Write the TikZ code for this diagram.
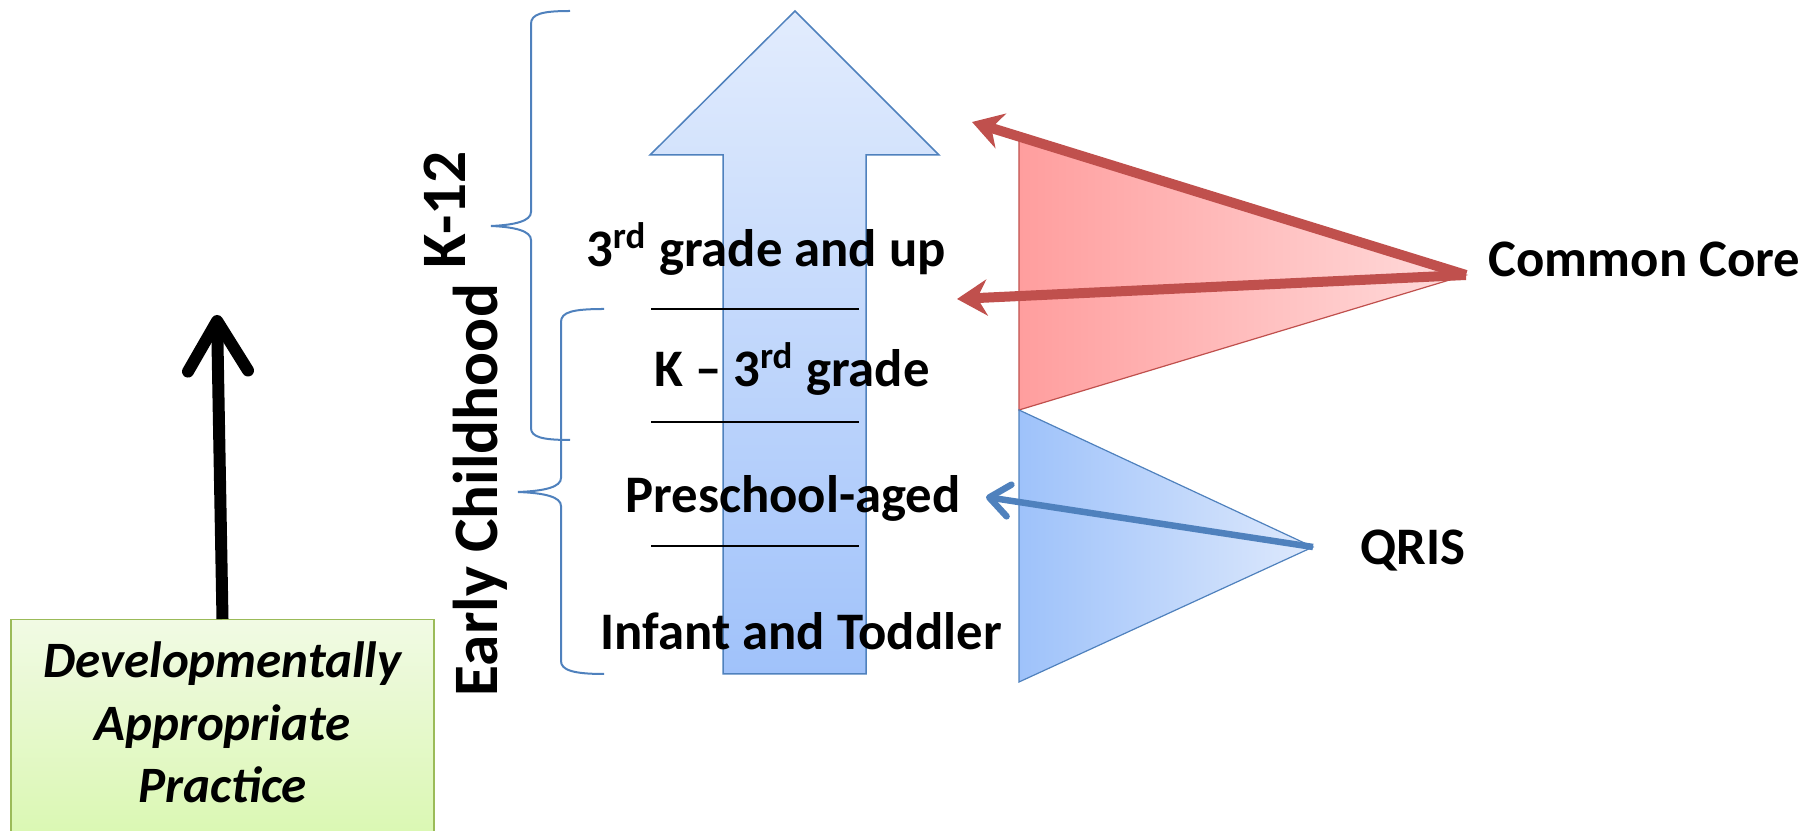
\documentclass[tikz,border=0pt]{standalone}
\usepackage{fontspec}
\setmainfont{Carlito}
\usetikzlibrary{arrows.meta}

\definecolor{pptblue}{RGB}{79,129,189}
\definecolor{pptred}{RGB}{192,80,77}
\definecolor{pptgreen}{RGB}{155,187,89}
\definecolor{arrowtop}{RGB}{226,236,253}
\definecolor{arrowbot}{RGB}{160,194,250}
\definecolor{redleft}{RGB}{255,158,158}
\definecolor{redright}{RGB}{255,220,220}
\definecolor{blueleft}{RGB}{158,194,250}
\definecolor{blueright}{RGB}{222,233,252}
\definecolor{greentop}{RGB}{241,250,228}
\definecolor{greenbot}{RGB}{212,247,165}

\tikzset{
  stage/.style={font=\fontsize{15}{18}\selectfont\bfseries, anchor=base, inner sep=0pt},
  side/.style={font=\fontsize{18}{21}\selectfont\bfseries, rotate=90, anchor=base west, inner sep=0pt},
  dapbox/.style={draw=pptgreen, line width=0.015cm, top color=greentop, bottom color=greenbot,
    align=center, font=\fontsize{14.5}{17.8}\selectfont\bfseries\itshape},
  coreline/.style={pptred, line width=0.1cm, -{Stealth[length=0.3cm,width=0.36cm]}},
  qrisline/.style={pptblue, line width=0.065cm, -{Straight Barb[length=0.2cm,width=0.32cm,round]}},
  bracket/.style={pptblue, line width=0.02cm},
  sepline/.style={black, line width=0.018cm},
}

\begin{document}
\begin{tikzpicture}[x=0.01cm, y=-0.01cm]
		%%%%% START %%%%%
		\useasboundingbox (0,0) rectangle (1820,831);
		\clip (0,0) rectangle (1820,831);
		
		% big arrow
		\draw[pptblue, line width=0.015cm, top color=arrowtop, bottom color=arrowbot]
			(795,11) -- (939,155) -- (866,155) -- (866,674) -- (723,674) -- (723,155) -- (650,155) -- cycle;
		
		\draw[sepline] (651,309) -- (859,309);
		\draw[sepline] (651,422) -- (859,422);
		\draw[sepline] (651,546) -- (859,546);
		
		% braces
		\draw[bracket] (570,11) .. controls (542,11) and (531,14) .. (531,24) -- (531,212)
			.. controls (531,221) and (515,225) .. (491,226) .. controls (515,227) and (531,231) .. (531,240)
			-- (531,428) .. controls (531,437) and (542,440) .. (570,440);
		\draw[bracket] (604,309) .. controls (573,309) and (561,312) .. (561,322) -- (561,478)
			.. controls (561,487) and (545,491) .. (518,492) .. controls (545,493) and (561,497) .. (561,506)
			-- (561,661) .. controls (561,670) and (573,674) .. (604,674);
		
		\node[side] (k12) at (465,269) {K-12};
		\node[side] (ec) at (497,697) {Early Childhood};
		
		\node[stage] (up) at (766,267) {3\textsuperscript{rd} grade and up};
		\node[stage] (kthree) at (792,387) {K -- 3\textsuperscript{rd} grade};
		\node[stage] (pre) at (793,513) {Preschool-aged};
		\node[stage] (inf) at (801,650) {Infant and Toddler};
		
		% triangles
		\coordinate (ccapex) at (1466,275);
		\coordinate (qrapex) at (1313,547);
		\draw[pptred, line width=0.012cm, left color=redleft, right color=redright]
			(1019,140) -- (ccapex) -- (1019,410) -- cycle;
		\draw[pptblue, line width=0.012cm, left color=blueleft, right color=blueright]
			(1019,410) -- (qrapex) -- (1019,682) -- cycle;
		
		\node[stage, anchor=base west] (cc) at (1488,277) {Common Core};
		\node[stage, anchor=base west] (qr) at (1360,565) {QRIS};
		
		\coordinate (cctop) at (972,122);
		\coordinate (ccmid) at (957,299);
		\coordinate (qrend) at (986,497);
		\draw[coreline] (ccapex) -- (cctop);
		\draw[coreline] (ccapex) -- (ccmid);
		\draw[qrisline] (qrapex) -- (qrend);
		
		% practice box
		\node[dapbox, anchor=north, minimum width=4.23cm, inner ysep=0.22cm, text depth=0.7cm] (dap) at (222.5,619)
			{Developmentally\\Appropriate\\Practice};
		\coordinate (dapup) at (217,315);
		\draw[line width=0.12cm, -{Straight Barb[length=0.5cm,width=0.6cm,round]}] (dap.north) -- (dapup);
		
		%%%%% END %%%%%
	\end{tikzpicture}
\end{document}
